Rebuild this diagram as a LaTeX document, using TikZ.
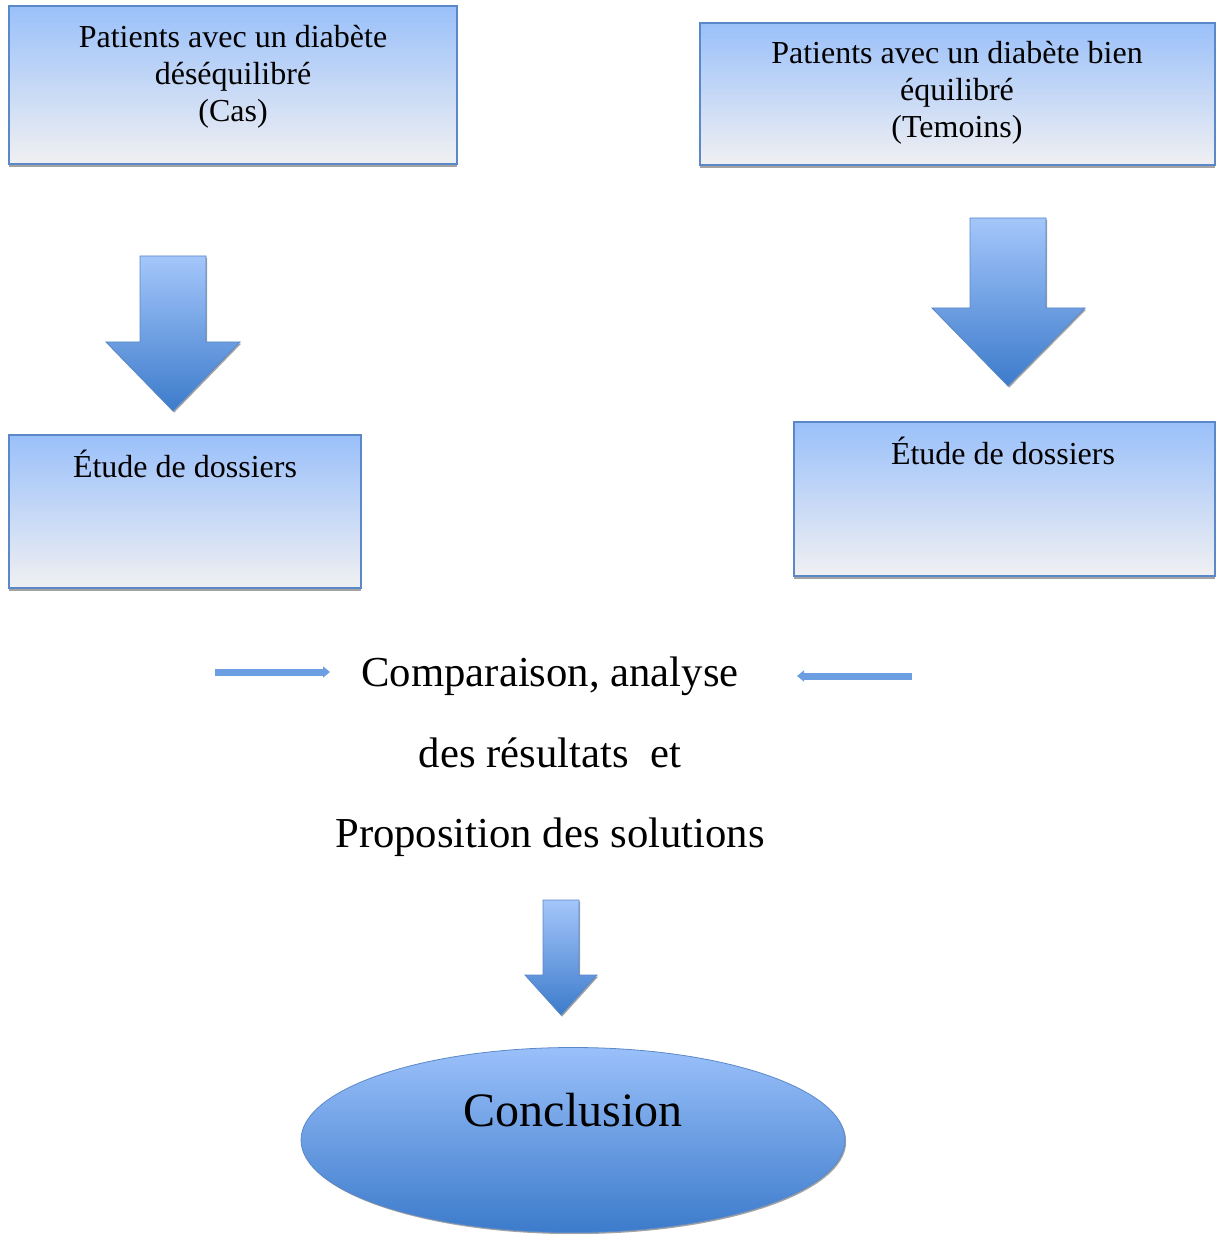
\documentclass[tikz,border=0pt]{standalone}
\usepackage{fontspec}
\setmainfont{Liberation Serif}
\usetikzlibrary{shapes.geometric,shadows,arrows.meta}

\definecolor{bleuclair}{HTML}{9AC0FA}
\definecolor{grisclair}{HTML}{F0F0F2}
\definecolor{bleubord}{HTML}{5A88C8}
\definecolor{bleufonce}{HTML}{3C7BCB}
\definecolor{bleumoyen}{HTML}{6C9EE2}

\tikzset{
  boite/.style={draw=bleubord, line width=0.6pt, top color=bleuclair, bottom color=grisclair,
    inner sep=0pt, drop shadow={shadow xshift=0pt, shadow yshift=-1.4pt, fill=black!60, opacity=0.6}},
  fleche/.style={draw=bleubord, line width=0.4pt, top color=bleuclair!90!white, bottom color=bleufonce,
    drop shadow={shadow xshift=0.6pt, shadow yshift=-0.8pt, fill=black!60, opacity=0.6}},
  petite/.style={line width=3.5pt, draw=bleumoyen, -{Triangle[length=3.5pt, width=5.5pt]}},
  texte/.style={align=center, font=\fontsize{16}{18.5}\selectfont},
  grand/.style={align=center, font=\fontsize{21.35}{40.2}\selectfont}
}

\begin{document}
\begin{tikzpicture}[x=0.5pt, y=-0.5pt]
    \useasboundingbox (0,0) rectangle (1220,1234);

    % Cadres du haut
    \node[boite, minimum width=224pt, minimum height=79pt] (cas) at (233,85) {};
    \node[texte] (castxt) at (233,77) {Patients avec un diabète\\déséquilibré\\(Cas)};
    \node[boite, minimum width=257.5pt, minimum height=71pt] (temoins) at (957.5,94) {};
    \node[texte] (temtxt) at (957,93) {Patients avec un diabète bien\\équilibré\\(Temoins)};

    % Grosses flèches vers le bas
    \draw[fleche] (140,256) -- (206,256) -- (206,342) -- (240,342) -- (173,411) -- (106,342) -- (140,342) -- cycle;
    \draw[fleche] (970,218) -- (1046,218) -- (1046,308) -- (1085,308) -- (1008,386) -- (932,308) -- (970,308) -- cycle;

    % Cadres "Étude de dossiers"
    \node[boite, minimum width=176pt, minimum height=76.5pt] (etudeA) at (185,511.5) {};
    \node[texte] (etudeAtxt) at (185,464) {Étude de dossiers};
    \node[boite, minimum width=210.5pt, minimum height=77pt] (etudeB) at (1004.5,499) {};
    \node[texte] (etudeBtxt) at (1003,451) {Étude de dossiers};

    % Comparaison
    \node[grand] (analyse) at (550,757) {Comparaison, analyse\\des résultats~ et\\Proposition des solutions};
    \coordinate (g1) at (215,672);
    \coordinate (g2) at (330,672);
    \coordinate (d1) at (912,676);
    \coordinate (d2) at (797,676);
    \draw[petite] (g1) -- (g2);
    \draw[petite] (d1) -- (d2);

    % Flèche vers la conclusion
    \draw[fleche] (543,900) -- (579,900) -- (579,975) -- (597,975) -- (561,1015) -- (525,975) -- (543,975) -- cycle;

    % Conclusion
    \node[ellipse, fleche, minimum width=272pt, minimum height=92.5pt, inner sep=0pt,
      top color=bleuclair, bottom color=bleufonce] (concl) at (573,1140) {};
    \node[font=\fontsize{24}{28}\selectfont] (concltxt) at (573,1110) {Conclusion};
\end{tikzpicture}
\end{document}
